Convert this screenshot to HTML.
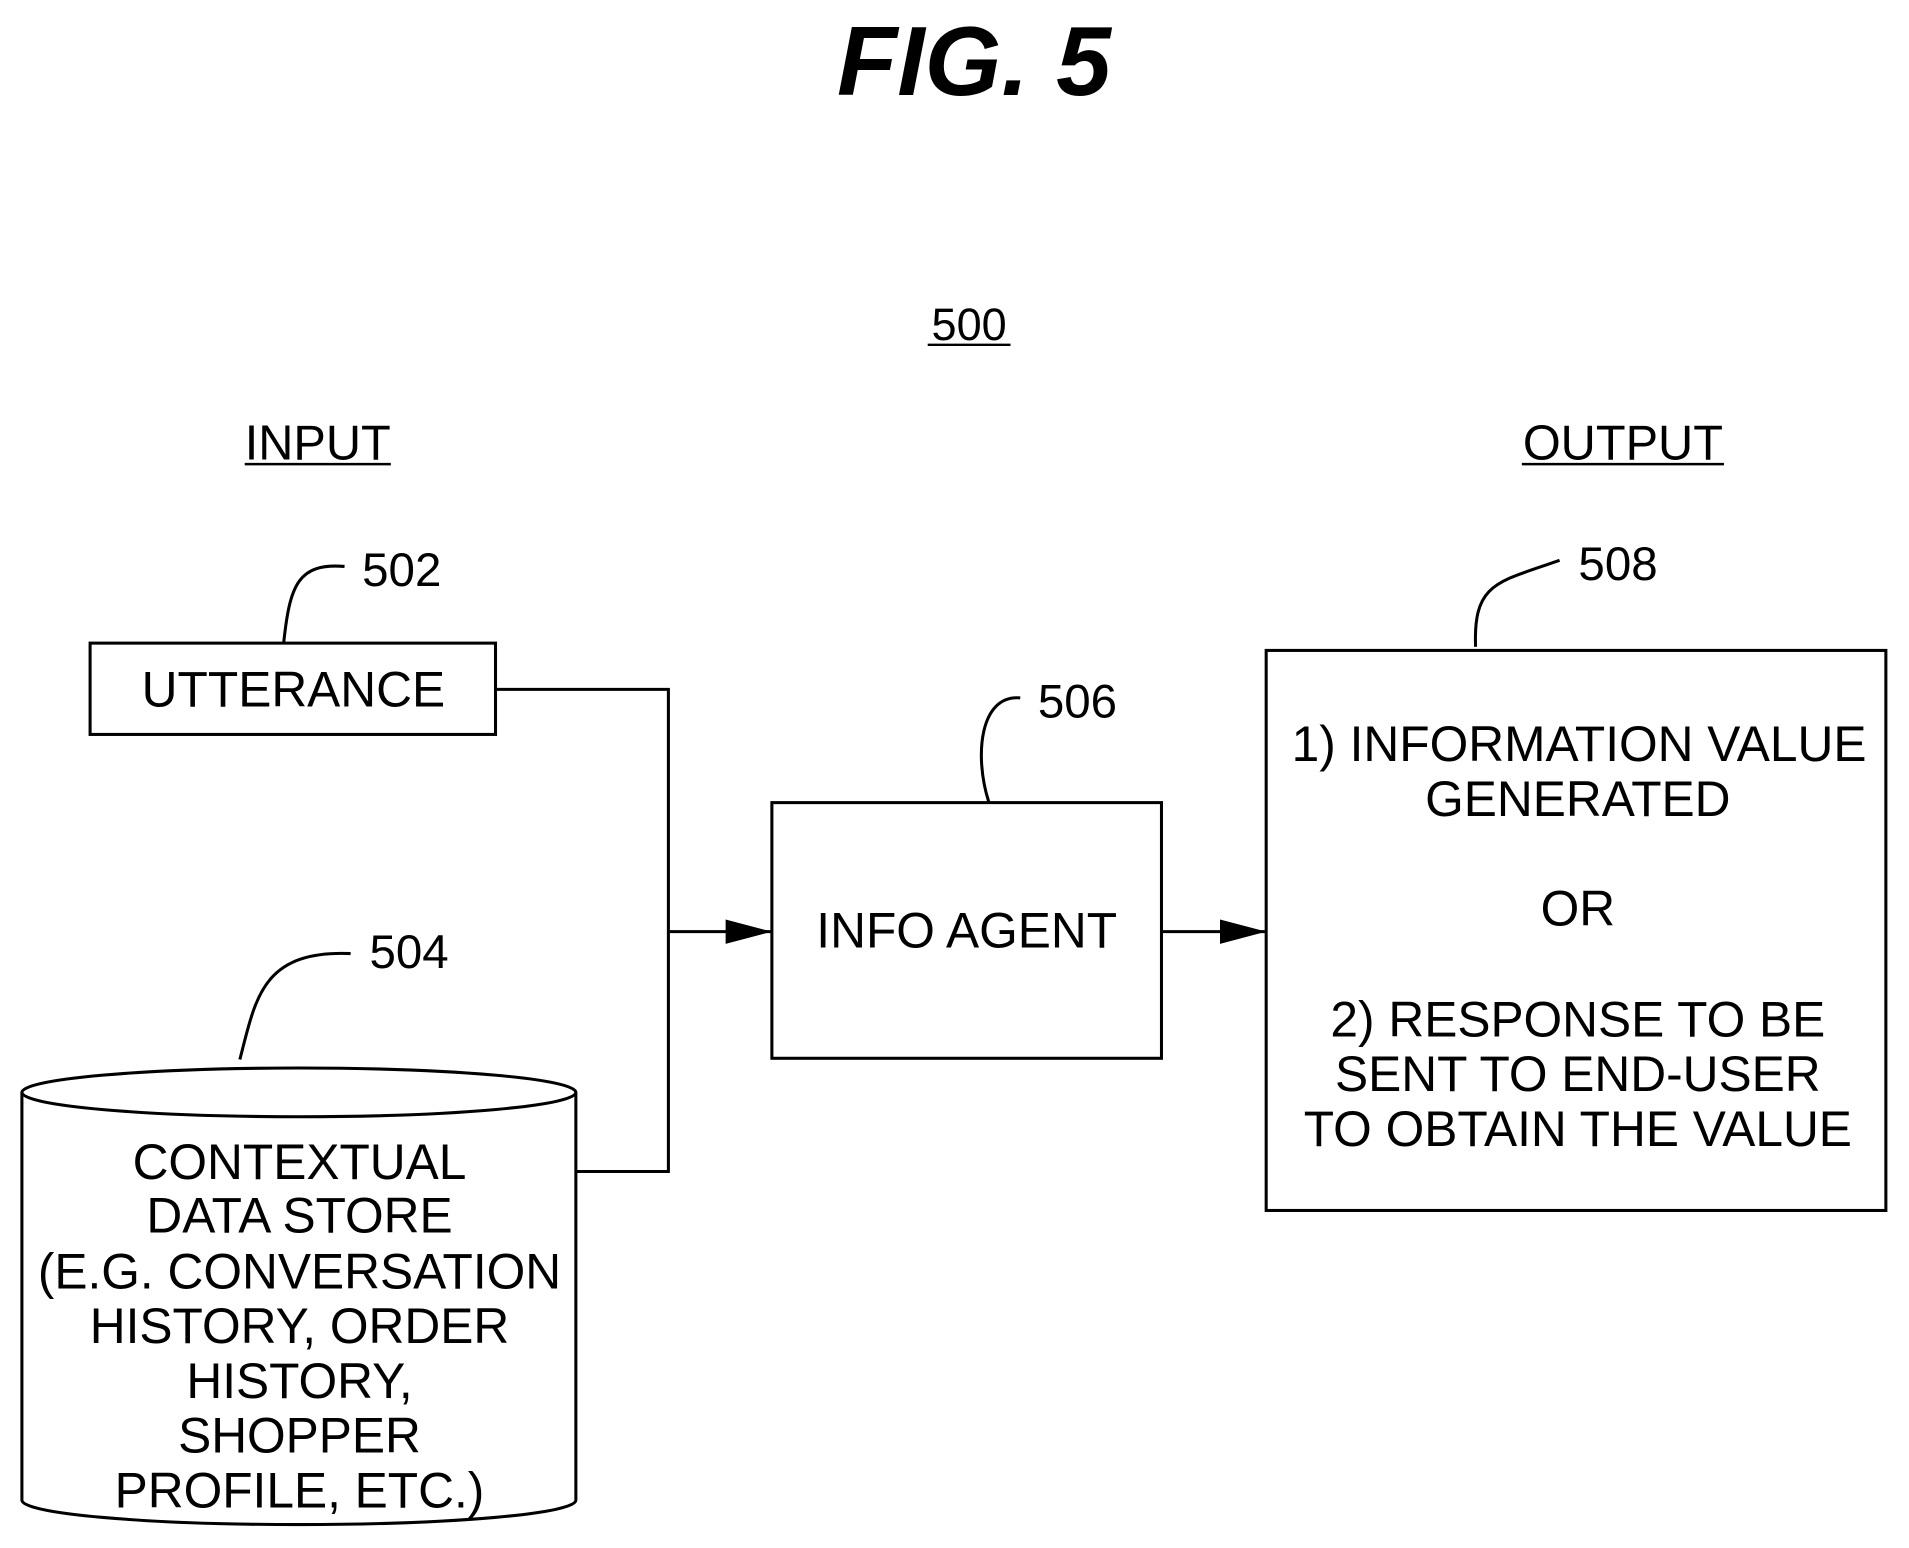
<!DOCTYPE html>
<html><head><meta charset="utf-8"><style>
html,body{margin:0;padding:0;background:#fff;}
svg{display:block;}
text{font-family:"Liberation Sans",Arial,sans-serif;fill:#000;}
</style></head><body>
<svg width="1909" height="1548" viewBox="0 0 1568 1271" xmlns="http://www.w3.org/2000/svg">
<defs>
<marker id="b" markerWidth="40" markerHeight="24" refX="38" refY="12" orient="auto" markerUnits="userSpaceOnUse"><path d="M0,2 L38,12 L0,22 z" fill="#000"/></marker></defs>
<text x="800" y="78" font-size="81" font-weight="bold" font-style="italic" text-anchor="middle">FIG. 5</text>
<text x="796" y="279" font-size="37" text-anchor="middle">500</text>
<line x1="762" y1="283" x2="830" y2="283" stroke="#000" stroke-width="2"/>
<text x="261" y="377" font-size="40" text-anchor="middle">INPUT</text>
<line x1="201" y1="381" x2="321" y2="381" stroke="#000" stroke-width="2"/>
<text x="1333" y="377" font-size="40" text-anchor="middle">OUTPUT</text>
<line x1="1250" y1="381" x2="1416" y2="381" stroke="#000" stroke-width="2"/>
<g fill="none" stroke="#000" stroke-width="2.5">
<path d="M283,465 C245,462 238,480 233,528"/>
<path d="M288,783 C215,780 210,820 197,870"/>
<path d="M838,573 C805,570 800,620 812,658"/>
<path d="M1281,460 C1230,478 1210,478 1212,531"/>
<rect x="74" y="528" width="333" height="75"/>
<rect x="634" y="659" width="320" height="210"/>
<rect x="1040" y="534" width="509" height="460"/>
<polyline points="407,566 549,566 549,962 473,962"/>
<line x1="549" y1="765" x2="634" y2="765" marker-end="url(#b)"/>
<line x1="954" y1="765" x2="1040" y2="765" marker-end="url(#b)"/>
<ellipse cx="245.5" cy="897" rx="227.5" ry="20"/>
<path d="M18,897 L18,1232 A227.5,20 0 0 0 473,1232 L473,897"/>
</g>
<g font-size="40.8" text-anchor="middle">
<text x="330" y="481" font-size="39">502</text>
<text x="336" y="795" font-size="39">504</text>
<text x="885" y="589" font-size="39">506</text>
<text x="1329" y="476" font-size="39">508</text>
<text x="241" y="580">UTTERANCE</text>
<text x="794" y="778">INFO AGENT</text>
<text x="246" y="968">CONTEXTUAL</text>
<text x="246" y="1012">DATA STORE</text>
<text x="246" y="1058">(E.G. CONVERSATION</text>
<text x="246" y="1103">HISTORY, ORDER</text>
<text x="246" y="1148">HISTORY,</text>
<text x="246" y="1193">SHOPPER</text>
<text x="246" y="1238">PROFILE, ETC.)</text>
<text x="1297" y="625">1) INFORMATION VALUE</text>
<text x="1296" y="670">GENERATED</text>
<text x="1296" y="760">OR</text>
<text x="1296" y="851">2) RESPONSE TO BE</text>
<text x="1296" y="896">SENT TO END-USER</text>
<text x="1296" y="941">TO OBTAIN THE VALUE</text>
</g>
</svg>
</body></html>
